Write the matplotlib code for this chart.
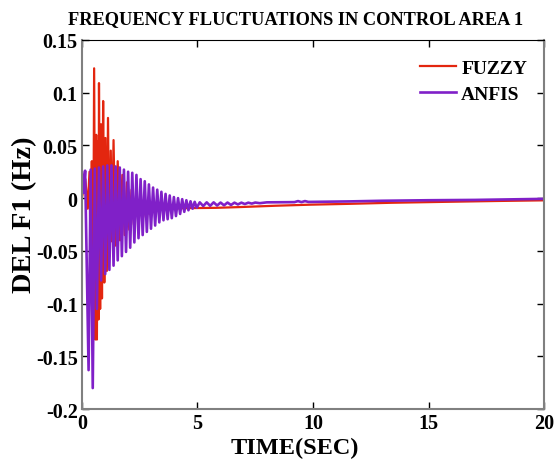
import matplotlib.pyplot as plt

# FUZZY response: (time, deviation)
fuzzy_time = [0.00, 0.15, 0.25, 0.33, 0.38, 0.43, 0.48, 0.53, 0.58, 0.62,
              0.65, 0.69, 0.72, 0.74, 0.79, 0.83, 0.87, 0.92, 0.97, 1.02,
              1.08, 1.13, 1.19, 1.25, 1.30, 1.37, 1.45, 1.55, 1.65, 1.75,
              1.85, 1.95, 2.05, 2.15, 2.25, 2.35, 2.45, 2.55, 2.65, 2.75,
              2.85, 2.95, 3.10, 3.30, 3.60, 4.50, 5.80, 6.80, 8.40, 9.90,
              11.60, 13.40, 15.50, 18.00, 20.00]
fuzzy_dev = [0.000, 0.018, -0.010, 0.025, -0.060, 0.035, -0.134, 0.123, -0.134, 0.060,
             -0.134, 0.054, -0.115, 0.109, -0.105, 0.070, -0.095, 0.092, -0.080, 0.057,
             -0.069, 0.076, -0.055, 0.045, -0.041, 0.055, -0.045, 0.035, -0.040, 0.022,
             -0.035, 0.015, -0.030, 0.008, -0.025, 0.004, -0.021, 0.000, -0.018, -0.003,
             -0.015, -0.006, -0.012, -0.009, -0.010, -0.0095, -0.0092, -0.0085, -0.0072, -0.0062,
             -0.0054, -0.0044, -0.0036, -0.0027, -0.0021]

# ANFIS response
anfis_time = [0.00, 0.07, 0.14, 0.29, 0.38, 0.47, 0.56, 0.65, 0.74, 0.83,
              0.92, 1.01, 1.10, 1.19, 1.28, 1.37, 1.46, 1.55, 1.64, 1.73,
              1.82, 1.91, 2.00, 2.09, 2.18, 2.27, 2.36, 2.45, 2.54, 2.63,
              2.72, 2.81, 2.90, 2.99, 3.08, 3.17, 3.26, 3.35, 3.44, 3.53,
              3.62, 3.71, 3.80, 3.89, 3.98, 4.07, 4.16, 4.25, 4.34, 4.43,
              4.52, 4.61, 4.70, 4.79, 4.88, 4.97, 5.10, 5.25, 5.40, 5.55,
              5.70, 5.85, 6.00, 6.15, 6.30, 6.45, 6.60, 6.75, 6.90, 7.05,
              7.20, 7.35, 7.50, 7.70, 8.00, 9.20, 9.35, 9.50, 9.65, 9.80,
              11.60, 13.00, 15.00, 17.00, 18.50, 20.00]
anfis_dev = [0.025, 0.005, 0.026, -0.163, 0.027, -0.180, 0.028, -0.105, 0.029, -0.078,
             0.030, -0.072, 0.031, -0.068, 0.031, -0.064, 0.030, -0.059, 0.029, -0.055,
             0.027, -0.051, 0.025, -0.047, 0.024, -0.042, 0.022, -0.038, 0.018, -0.035,
             0.016, -0.032, 0.013, -0.029, 0.010, -0.026, 0.008, -0.023, 0.006, -0.021,
             0.004, -0.020, 0.0025, -0.019, 0.001, -0.017, 0.000, -0.015, -0.001, -0.013,
             -0.002, -0.0115, -0.003, -0.010, -0.0035, -0.009, -0.004, -0.0075, -0.004, -0.0073,
             -0.004, -0.007, -0.0042, -0.0068, -0.0042, -0.0065, -0.0043, -0.006, -0.0043, -0.0056,
             -0.0043, -0.0052, -0.0042, -0.0048, -0.0040, -0.0038, -0.0028, -0.0038, -0.0028, -0.0036,
             -0.0031, -0.0025, -0.0020, -0.0017, -0.0012, -0.0007]

x_ticks = [0, 5, 10, 15, 20]
y_ticks = [-0.2, -0.15, -0.1, -0.05, 0, 0.05, 0.1, 0.15]
y_tick_labels = ["-0.2", "-0.15", "-0.1", "-0.05", "0", "0.05", "0.1", "0.15"]

plt.rcParams['font.family'] = ['Liberation Serif', 'DejaVu Serif']
plt.rcParams['font.weight'] = 'bold'

fig = plt.figure(figsize=(5.57, 4.64), dpi=100)
ax = fig.add_axes([0.147, 0.116, 0.830, 0.796])

ax.plot(fuzzy_time, fuzzy_dev, color='#E3260F', lw=1.6, label='FUZZY')
ax.plot(anfis_time, anfis_dev, color='#8020C8', lw=1.9, label='ANFIS')

ax.set_xlim(0, 20)
ax.set_ylim(-0.2, 0.15)
ax.set_xticks(x_ticks)
ax.set_xticklabels([str(t) for t in x_ticks])
ax.set_yticks(y_ticks)
ax.set_yticklabels(y_tick_labels)
ax.tick_params(direction='in', length=5, width=1, top=True, right=True,
               labelsize=14.5, pad=3)
for lab in ax.get_xticklabels() + ax.get_yticklabels():
    lab.set_fontweight('bold')

for side in ['left', 'bottom', 'right']:
    ax.spines[side].set_color('#808080')
    ax.spines[side].set_linewidth(1.5)
ax.spines['top'].set_color('black')

ax.set_xlabel('TIME(SEC)', fontsize=17.5, fontweight='bold')
ax.xaxis.set_label_coords(0.461, -0.075)
ax.set_ylabel('DEL F1 (Hz)', fontsize=20.5, fontweight='bold')
ax.yaxis.set_label_coords(-0.096, 0.53)
fig.text(0.53, 0.958, 'FREQUENCY FLUCTUATIONS IN CONTROL AREA 1',
         ha='center', va='center', fontsize=13.2, fontweight='bold')

ax.legend(loc='upper right', frameon=False, handlelength=1.85,
          handletextpad=0.25, borderaxespad=0.6, labelspacing=0.45,
          bbox_to_anchor=(1.005, 1.0),
          prop={'weight': 'bold', 'size': 14})

fig.savefig('out.png', dpi=100)
